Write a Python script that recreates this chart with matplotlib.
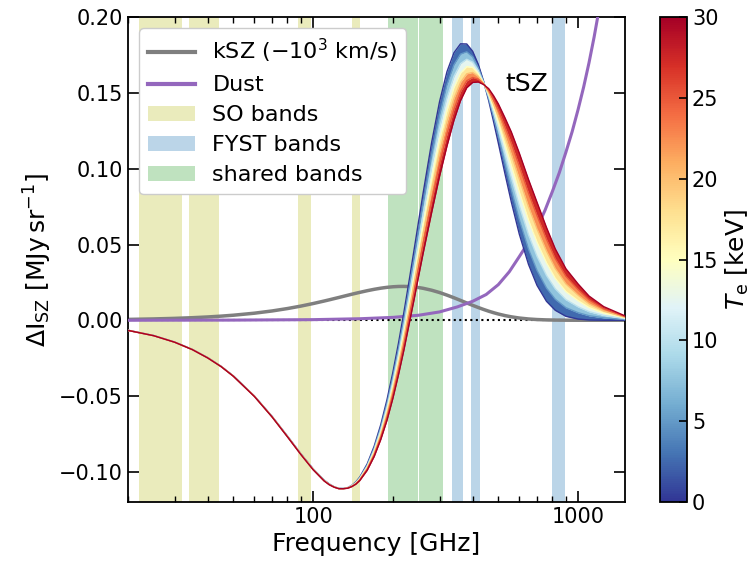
import numpy as np
import matplotlib
matplotlib.use("Agg")
import matplotlib.pyplot as plt
from matplotlib.patches import Patch
from matplotlib.lines import Line2D
from matplotlib.colors import Normalize
from matplotlib.cm import ScalarMappable
from matplotlib.ticker import LogLocator, NullFormatter, FixedLocator, FuncFormatter

plt.rcParams['font.family'] = ['DejaVu Sans']
plt.rcParams['mathtext.default'] = 'regular'

# ---------------- data ----------------
FREQ = [20, 25, 30, 35, 40, 45, 50, 60, 70, 80, 90, 100, 110, 115, 120, 125, 130, 135, 140,
        145, 150, 160, 170, 180, 190, 200, 210, 220, 230, 240, 250, 260, 280, 300, 320, 340,
        360, 380, 400, 420, 440, 460, 480, 500, 530, 560, 600, 650, 700, 760, 820, 900,
        1000, 1100, 1250, 1500]

TE_LEVELS = [0, 5, 10, 15, 20, 25, 30]

TSZ_TE0 = [-0.0066, -0.0101, -0.0144, -0.0193, -0.0247, -0.0305, -0.0368, -0.0500, -0.0635,
           -0.0765, -0.0883, -0.0981, -0.1055, -0.1081, -0.1099, -0.1110, -0.1111, -0.1105,
           -0.1090, -0.1067, -0.1035, -0.0948, -0.0831, -0.0689,
           -0.0524, -0.0343, -0.0150, 0.0051, 0.0255, 0.0456, 0.0652, 0.0838, 0.1173, 0.1443,
           0.1641, 0.1766, 0.1825, 0.1824, 0.1776, 0.1690, 0.1578, 0.1449, 0.1310, 0.1170,
           0.0966, 0.0780, 0.0569, 0.0369, 0.0230, 0.0125, 0.0066, 0.0026, 0.0008, 0.0002,
           0.0000, 0.0000]
TSZ_TE5 = [-0.0066, -0.0101, -0.0144, -0.0193, -0.0247, -0.0305, -0.0368, -0.0501, -0.0636,
           -0.0766, -0.0884, -0.0982, -0.1056, -0.1082, -0.1100, -0.1110, -0.1111, -0.1106,
           -0.1091, -0.1070, -0.1039, -0.0956, -0.0843, -0.0707,
           -0.0548, -0.0374, -0.0188, 0.0006, 0.0204, 0.0397, 0.0587, 0.0766, 0.1090, 0.1354,
           0.1553, 0.1686, 0.1757, 0.1772, 0.1739, 0.1669, 0.1574, 0.1463, 0.1341, 0.1217,
           0.1033, 0.0863, 0.0665, 0.0470, 0.0329, 0.0213, 0.0139, 0.0083, 0.0050, 0.0030,
           0.0016, 0.0005]
TSZ_TE10 = [-0.0066, -0.0101, -0.0144, -0.0193, -0.0248, -0.0306, -0.0369, -0.0501, -0.0636,
            -0.0767, -0.0885, -0.0983, -0.1057, -0.1083, -0.1100, -0.1111, -0.1111, -0.1106,
            -0.1093, -0.1072, -0.1043, -0.0963, -0.0855, -0.0723,
            -0.0572, -0.0403, -0.0223, -0.0036, 0.0155, 0.0342, 0.0525, 0.0699, 0.1011, 0.1270,
            0.1469, 0.1610, 0.1694, 0.1723, 0.1704, 0.1649, 0.1570, 0.1477, 0.1370, 0.1261,
            0.1096, 0.0942, 0.0756, 0.0565, 0.0422, 0.0296, 0.0208, 0.0136, 0.0089, 0.0057,
            0.0032, 0.0011]
TSZ_TE15 = [-0.0067, -0.0102, -0.0145, -0.0194, -0.0248, -0.0306, -0.0369, -0.0502, -0.0637,
            -0.0768, -0.0886, -0.0984, -0.1058, -0.1084, -0.1101, -0.1111, -0.1112, -0.1107,
            -0.1094, -0.1075, -0.1047, -0.0970, -0.0866, -0.0740,
            -0.0595, -0.0432, -0.0259, -0.0078, 0.0107, 0.0286, 0.0464, 0.0631, 0.0932, 0.1187,
            0.1386, 0.1534, 0.1630, 0.1674, 0.1669, 0.1629, 0.1567, 0.1491, 0.1399, 0.1305,
            0.1158, 0.1021, 0.0847, 0.0661, 0.0515, 0.0379, 0.0277, 0.0189, 0.0129, 0.0084,
            0.0047, 0.0016]
TSZ_TE20 = [-0.0067, -0.0102, -0.0145, -0.0194, -0.0248, -0.0306, -0.0369, -0.0502, -0.0638,
            -0.0768, -0.0886, -0.0985, -0.1059, -0.1084, -0.1101, -0.1111, -0.1112, -0.1108,
            -0.1095, -0.1077, -0.1051, -0.0977, -0.0877, -0.0756,
            -0.0616, -0.0460, -0.0292, -0.0118, 0.0061, 0.0234, 0.0406, 0.0567, 0.0858, 0.1108,
            0.1307, 0.1463, 0.1570, 0.1627, 0.1636, 0.1610, 0.1563, 0.1503, 0.1427, 0.1346,
            0.1218, 0.1095, 0.0933, 0.0750, 0.0603, 0.0457, 0.0342, 0.0240, 0.0166, 0.0109,
            0.0061, 0.0020]
TSZ_TE25 = [-0.0067, -0.0102, -0.0145, -0.0194, -0.0249, -0.0307, -0.0370, -0.0503, -0.0638,
            -0.0769, -0.0887, -0.0986, -0.1060, -0.1085, -0.1102, -0.1112, -0.1112, -0.1108,
            -0.1097, -0.1080, -0.1054, -0.0983, -0.0888, -0.0771,
            -0.0638, -0.0487, -0.0326, -0.0158, 0.0016, 0.0182, 0.0348, 0.0504, 0.0784, 0.1029,
            0.1229, 0.1391, 0.1510, 0.1581, 0.1603, 0.1592, 0.1560, 0.1516, 0.1454, 0.1388,
            0.1277, 0.1169, 0.1018, 0.0840, 0.0691, 0.0535, 0.0407, 0.0290, 0.0203, 0.0135,
            0.0076, 0.0025]
TSZ_TE30 = [-0.0067, -0.0102, -0.0145, -0.0194, -0.0249, -0.0307, -0.0370, -0.0503, -0.0639,
            -0.0770, -0.0888, -0.0987, -0.1061, -0.1086, -0.1102, -0.1112, -0.1112, -0.1109,
            -0.1098, -0.1082, -0.1058, -0.0990, -0.0899, -0.0787,
            -0.0660, -0.0515, -0.0359, -0.0198, -0.0030, 0.0130, 0.0290, 0.0440, 0.0710, 0.0950,
            0.1150, 0.1320, 0.1450, 0.1535, 0.1570, 0.1573, 0.1556, 0.1529, 0.1482, 0.1429,
            0.1336, 0.1243, 0.1104, 0.0930, 0.0779, 0.0613, 0.0472, 0.0340, 0.0240, 0.0160,
            0.0090, 0.0030]

KSZ = [0.00056, 0.00087, 0.00125, 0.00169, 0.00218, 0.00273, 0.00333, 0.00466, 0.00614,
       0.00773, 0.00937, 0.01104, 0.01269, 0.01349, 0.01428, 0.01504, 0.01579, 0.01650,
       0.01718, 0.01782, 0.01842, 0.01951, 0.02043, 0.02117,
       0.02173, 0.02210, 0.02231, 0.02235, 0.02223, 0.02198, 0.02159, 0.02110, 0.01983,
       0.01830, 0.01660, 0.01485, 0.01310, 0.01142, 0.00985, 0.00842, 0.00713, 0.00598,
       0.00499, 0.00413, 0.00307, 0.00226, 0.00147, 0.00084, 0.00047, 0.00023, 0.00011,
       0.00004, 0.00001, 0.0, 0.0, 0.0]

DUST_FREQ = [20, 50, 100, 150, 200, 250, 300, 350, 400, 450, 500, 550, 600, 650, 700, 750,
             800, 850, 900, 950, 1000, 1050, 1100, 1150, 1200, 1300, 1500]
DUST = [0.0000, 0.0001, 0.0004, 0.0010, 0.0019, 0.0033, 0.0055, 0.0088, 0.0125, 0.0170,
        0.0235, 0.0320, 0.0420, 0.0515, 0.0610, 0.0725, 0.0850, 0.0975, 0.1110, 0.1245,
        0.1390, 0.1540, 0.1700, 0.1870, 0.2050, 0.2450, 0.3300]

SO_BANDS = [(22, 32), (34, 44), (88, 98), (140, 150)]
FYST_BANDS = [(333, 368), (396, 426), (800, 895)]
SHARED_BANDS = [(192, 248.5), (250, 310)]

X_TICKS = [100, 1000]
Y_TICKS = [-0.10, -0.05, 0.00, 0.05, 0.10, 0.15, 0.20]
CB_TICKS = [0, 5, 10, 15, 20, 25, 30]

# ---------------- figure ----------------
fig = plt.figure(figsize=(7.53, 5.69), dpi=100)
ax = fig.add_axes([0.170, 0.1177, 0.6596, 0.8519])
cax = fig.add_axes([0.8765, 0.1177, 0.0359, 0.8519])

for lo, hi in SO_BANDS:
    ax.axvspan(lo, hi, color='tab:olive', alpha=0.3, lw=0, zorder=0)
for lo, hi in FYST_BANDS:
    ax.axvspan(lo, hi, color='tab:blue', alpha=0.3, lw=0, zorder=0)
for lo, hi in SHARED_BANDS:
    ax.axvspan(lo, hi, color='tab:green', alpha=0.3, lw=0, zorder=0)

ax.axhline(0, color='k', ls=':', lw=1.5, zorder=1)
ax.plot(FREQ, KSZ, color='tab:gray', lw=2.5, zorder=2)
ax.plot(DUST_FREQ, DUST, color='tab:purple', lw=2.2, zorder=3)

cmap = plt.get_cmap('RdYlBu_r')
norm = Normalize(vmin=0, vmax=30)
curves = [TSZ_TE0, TSZ_TE5, TSZ_TE10, TSZ_TE15, TSZ_TE20, TSZ_TE25, TSZ_TE30]
for i in range(len(curves) - 1):
    tmid = 0.5 * (TE_LEVELS[i] + TE_LEVELS[i + 1])
    ax.fill_between(FREQ, curves[i], curves[i + 1], color=cmap(norm(tmid)), lw=0, zorder=4)
for t, c in zip(TE_LEVELS, curves):
    ax.plot(FREQ, c, color=cmap(norm(t)), lw=1.0, zorder=5)

ax.text(530, 0.156, 'tSZ', fontsize=18, va='center', ha='left', zorder=6)

ax.set_xscale('log')
ax.set_xlim(20, 1500)
ax.set_ylim(-0.12, 0.20)
ax.xaxis.set_major_locator(FixedLocator(X_TICKS))
ax.set_xticklabels([str(v) for v in X_TICKS])
ax.xaxis.set_minor_locator(LogLocator(base=10, subs=np.arange(2, 10)))
ax.xaxis.set_minor_formatter(NullFormatter())
ax.set_yticks(Y_TICKS)
ax.yaxis.set_major_formatter(FuncFormatter(lambda v, p: ('%.2f' % v).replace('-', '\u2212')))
ax.tick_params(which='both', direction='in', top=True, right=True, labelsize=15)
ax.tick_params(which='major', length=8, width=1.2)
ax.tick_params(which='minor', length=4, width=1.0)
for s in ax.spines.values():
    s.set_linewidth(1.3)

ax.set_xlabel('Frequency [GHz]', fontsize=18)
ax.set_ylabel(r'$\Delta I_{SZ}$ [MJy$\,$sr$^{-1}$]', fontsize=18)

handles = [
    Line2D([], [], color='tab:gray', lw=3),
    Line2D([], [], color='tab:purple', lw=3),
    Patch(facecolor='tab:olive', alpha=0.3, edgecolor='none'),
    Patch(facecolor='tab:blue', alpha=0.3, edgecolor='none'),
    Patch(facecolor='tab:green', alpha=0.3, edgecolor='none'),
]
labels = [r'kSZ ($-10^3$ km/s)', 'Dust', 'SO bands', 'FYST bands', 'shared bands']
leg = ax.legend(handles, labels, loc='upper left', fontsize=16, framealpha=1,
                handlelength=2.1, labelspacing=0.45)
leg.set_zorder(10)

sm = ScalarMappable(norm=norm, cmap=cmap)
cb = fig.colorbar(sm, cax=cax)
cb.set_ticks(CB_TICKS)
cb.ax.tick_params(direction='in', labelsize=15, length=6, width=1.2)
cb.outline.set_linewidth(1.3)
cb.set_label(r'$\mathit{T}_\mathrm{e}$ [keV]', fontsize=18)

fig.savefig('out.png', dpi=100)
